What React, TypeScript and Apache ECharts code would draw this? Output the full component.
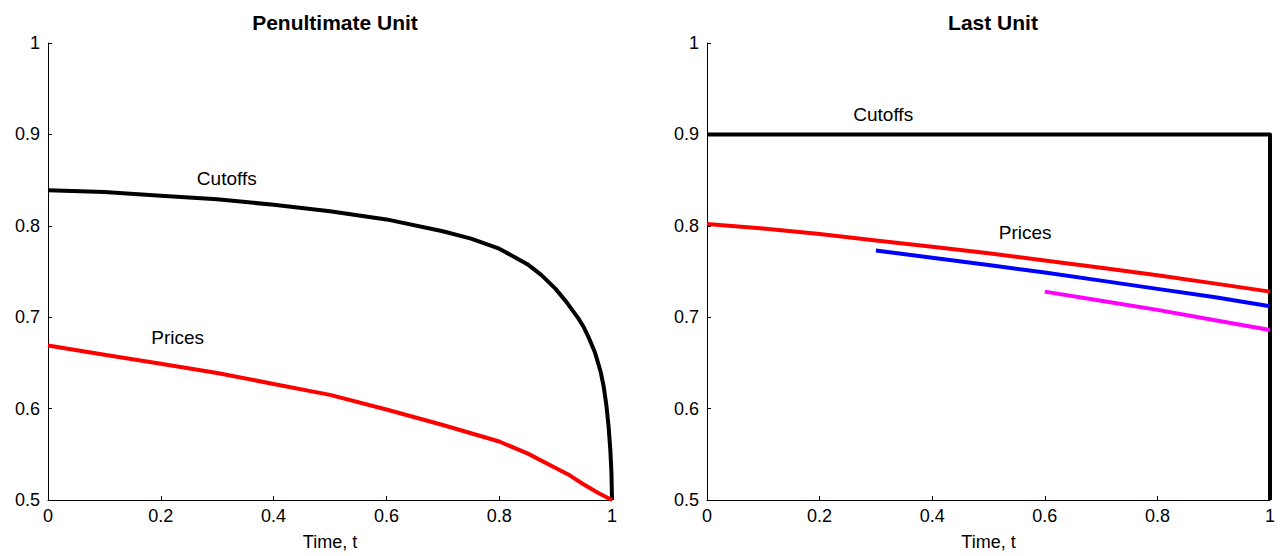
import React, { useEffect, useRef } from "react";
import * as echarts from "echarts";

const yTicks = [0.5, 0.6, 0.7, 0.8, 0.9, 1];
const xTicks = [0, 0.2, 0.4, 0.6, 0.8, 1];

// Left panel: Penultimate Unit
const penCutoffX = [0, 0.1, 0.2, 0.3, 0.4, 0.5, 0.6, 0.7, 0.75, 0.8, 0.85, 0.875, 0.9, 0.92, 0.94, 0.95, 0.96, 0.97, 0.98, 0.985, 0.99, 0.994, 0.997, 0.999, 1];
const penCutoffY = [0.839, 0.837, 0.833, 0.829, 0.823, 0.816, 0.807, 0.794, 0.786, 0.775, 0.758, 0.746, 0.731, 0.716, 0.699, 0.689, 0.676, 0.661, 0.64, 0.625, 0.604, 0.58, 0.555, 0.53, 0.5];
const penPriceX = [0, 0.1, 0.2, 0.3, 0.4, 0.5, 0.6, 0.7, 0.75, 0.8, 0.85, 0.9, 0.925, 0.95, 0.975, 1];
const penPriceY = [0.669, 0.659, 0.649, 0.639, 0.627, 0.615, 0.599, 0.582, 0.573, 0.564, 0.551, 0.535, 0.527, 0.517, 0.508, 0.5];

// Right panel: Last Unit
const lastCutoffX = [0, 1, 1];
const lastCutoffY = [0.9, 0.9, 0.5];
const lastPriceRedX = [0, 0.1, 0.2, 0.3, 0.4, 0.5, 0.6, 0.7, 0.8, 0.9, 1];
const lastPriceRedY = [0.802, 0.797, 0.791, 0.784, 0.777, 0.77, 0.762, 0.754, 0.746, 0.737, 0.728];
const lastPriceBlueX = [0.3, 0.4, 0.5, 0.6, 0.7, 0.8, 0.9, 1];
const lastPriceBlueY = [0.773, 0.765, 0.757, 0.749, 0.74, 0.731, 0.722, 0.712];
const lastPriceMagX = [0.6, 0.7, 0.8, 0.9, 1];
const lastPriceMagY = [0.728, 0.718, 0.708, 0.697, 0.686];

const titles = ["Penultimate Unit", "Last Unit"];
const xName = "Time, t";

// annotation label positions (data coords)
const leftLabels: [string, number, number][] = [
  ["Cutoffs", 0.317, 0.852],
  ["Prices", 0.23, 0.678],
];
const rightLabels: [string, number, number][] = [
  ["Cutoffs", 0.313, 0.922],
  ["Prices", 0.565, 0.793],
];

const zip = (xs: number[], ys: number[]) => xs.map((x, i) => [x, ys[i]]);

const FONT = "Liberation Sans, Arial, Helvetica, sans-serif";

export default function App() {
  const ref = useRef<HTMLDivElement>(null);
  useEffect(() => {
    if (!ref.current) return;
    const chart = echarts.init(ref.current, null, { renderer: "svg" });

    const xAxisBase = (gridIndex: number) => ({
      type: "value" as const,
      gridIndex,
      min: 0,
      max: 1,
      interval: 0.2,
      name: xName,
      nameLocation: "middle" as const,
      nameGap: 33,
      nameTextStyle: { color: "#000", fontSize: 18, fontFamily: FONT },
      axisLine: { lineStyle: { color: "#000", width: 1 } },
      axisTick: { inside: true, length: 4, lineStyle: { color: "#000" } },
      axisLabel: {
        color: "#000",
        fontSize: 18,
        fontFamily: FONT,
        margin: 7,
        formatter: (v: number) => (xTicks.includes(+v.toFixed(1)) ? String(+v.toFixed(1)) : ""),
      },
      splitLine: { show: false },
    });
    const yAxisBase = (gridIndex: number) => ({
      type: "value" as const,
      gridIndex,
      min: 0.5,
      max: 1,
      interval: 0.1,
      axisLine: { show: true, lineStyle: { color: "#000", width: 1 } },
      axisTick: { show: true, inside: true, length: 4, lineStyle: { color: "#000" } },
      axisLabel: {
        color: "#000",
        fontSize: 18,
        fontFamily: FONT,
        margin: 8,
        formatter: (v: number) => (yTicks.includes(+v.toFixed(1)) ? String(+v.toFixed(1)) : ""),
      },
      splitLine: { show: false },
    });

    const labelPoints = (labels: [string, number, number][]) => ({
      symbol: "circle",
      symbolSize: 0,
      silent: true,
      label: {
        show: true,
        position: "inside",
        color: "#000",
        fontSize: 19,
        fontFamily: FONT,
        formatter: (p: any) => p.name,
      },
      data: labels.map(([n, x, y]) => ({ name: n, coord: [x, y] })),
    });

    const lineSeries = (
      idx: number,
      data: number[][],
      color: string,
      extra: any = {}
    ) => ({
      type: "line" as const,
      xAxisIndex: idx,
      yAxisIndex: idx,
      data,
      showSymbol: false,
      symbol: "none",
      clip: false,
      lineStyle: { color, width: 4, join: "round" },
      ...extra,
    });

    chart.setOption({
      animation: false,
      backgroundColor: "#fff",
      title: [
        {
          text: titles[0],
          left: 330,
          top: 7,
          textAlign: "center",
          textStyle: { fontSize: 21, fontWeight: "bold", color: "#000", fontFamily: FONT },
        },
        {
          text: titles[1],
          left: 988,
          top: 7,
          textAlign: "center",
          textStyle: { fontSize: 21, fontWeight: "bold", color: "#000", fontFamily: FONT },
        },
      ],
      grid: [
        { left: 48, right: 668, top: 43, bottom: 54 },
        { left: 707, right: 10, top: 43, bottom: 54 },
      ],
      xAxis: [xAxisBase(0), xAxisBase(1)],
      yAxis: [yAxisBase(0), yAxisBase(1)],
      series: [
        lineSeries(0, zip(penCutoffX, penCutoffY), "#000", { markPoint: labelPoints(leftLabels) }),
        lineSeries(0, zip(penPriceX, penPriceY), "#ff0000"),
        lineSeries(1, zip(lastCutoffX, lastCutoffY), "#000", { markPoint: labelPoints(rightLabels) }),
        lineSeries(1, zip(lastPriceRedX, lastPriceRedY), "#ff0000"),
        lineSeries(1, zip(lastPriceBlueX, lastPriceBlueY), "#0000ff"),
        lineSeries(1, zip(lastPriceMagX, lastPriceMagY), "#ff00ff"),
      ],
    });
    return () => chart.dispose();
  }, []);
  return <div ref={ref} style={{ width: 1280, height: 556, position: "absolute", left: 0, top: 0 }} />;
}
